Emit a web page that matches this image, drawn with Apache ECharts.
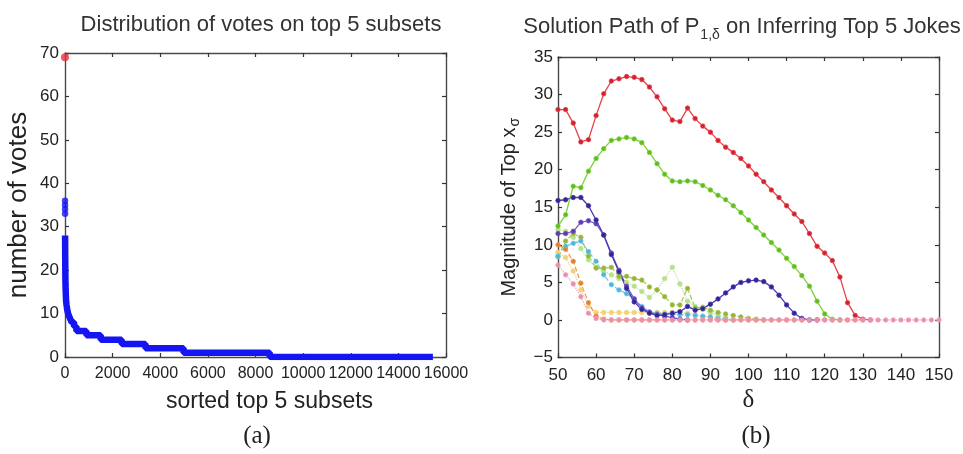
<!DOCTYPE html>
<html><head><meta charset="utf-8">
<script src="https://cdn.jsdelivr.net/npm/echarts@6/dist/echarts.min.js"></script>
<style>html,body{margin:0;padding:0;background:#fff}#c{width:963px;height:454px}</style>
</head><body><div id="c"></div>
<script>
// ---------- Panel (a): distribution of votes ----------
const topSubset = [[0, 69]];
const headVotes = [[1, 36], [2, 35], [3, 34], [4, 33]];
const voteSteps = [[5, 28], [6, 26], [9, 23], [13, 20], [20, 17], [30, 15], [45, 13], [65, 12], [90, 11], [130, 10],
  [200, 9], [280, 8], [380, 7], [480, 6], [900, 5], [1500, 4], [2380, 3], [3380, 2], [4980, 1], [8600, 0], [15450, 0]];
const xTicksA = [0, 16000, 2000];
const yTicksA = [0, 70, 10];

// ---------- Panel (b): solution path ----------
const deltas = [50,52,54,56,58,60,62,64,66,68,70,72,74,76,78,80,82,84,86,88,90,92,94,96,98,100,102,104,106,108,110,112,114,116,118,120,122,124,126,128,130,132,134,136,138,140,142,144,146,148,150];
const redPath = [28.0,28.0,26.2,23.7,24.0,27.2,30.1,31.8,32.1,32.4,
  32.3,32.0,31.0,29.7,28.1,26.6,26.4,28.2,26.8,25.8,
  25.0,23.9,23.0,22.3,21.5,20.5,19.4,18.4,17.3,16.3,
  15.2,14.1,13.1,11.5,9.8,8.9,7.9,5.7,2.3,0.6,
  0.1,0,null,null,null,null,null,null,null,null,null];
const greenPath = [12.5,14.0,17.8,17.6,19.8,21.5,22.8,23.9,24.1,24.3,
  24.1,23.6,22.3,20.8,19.4,18.5,18.4,18.5,18.4,17.9,
  17.3,16.6,16.0,15.2,14.3,13.3,12.3,11.3,10.3,9.3,
  8.2,7.1,5.9,4.5,2.5,0.8,0.1,0,null,null,
  null,null,null,null,null,null,null,null,null,null,null];
const indigoPath = [15.9,16.0,16.3,16.3,15.2,13.3,11.3,8.7,6.4,4.2,
  2.4,1.4,0.9,0.6,0.7,0.9,1.1,1.8,1.3,1.5,
  2.1,2.8,3.6,4.4,5.0,5.2,5.3,5.1,4.4,3.3,
  2.0,0.9,0.2,0,0,null,null,null,null,null,
  null,null,null,null,null,null,null,null,null,null,null];
const violetPath = [11.5,11.5,11.8,13.0,13.2,12.8,11.3,8.9,6.6,4.5,
  2.8,1.6,1.0,0.7,0.5,0.3,0.1,0,null,null,
  null,null,null,null,null,null,null,null,null,null,
  null,null,null,null,null,null,null,null,null,null,
  null,null,null,null,null,null,null,null,null,null,null];
const cyanPath = [8.5,9.8,10.2,10.5,9.1,7.8,6.0,4.7,4.0,3.5,
  2.8,1.8,1.1,0.9,0.8,0.8,0.7,0.7,0.6,0.5,
  0.4,0.2,0.1,0,null,null,null,null,null,null,
  null,null,null,null,null,null,null,null,null,null,
  null,null,null,null,null,null,null,null,null,null,null];
const olivePath = [8.4,10.5,11.5,11.0,8.5,6.9,6.9,7.0,5.8,5.8,
  5.5,5.3,4.4,4.0,3.1,2.0,2.0,4.2,1.6,1.7,
  1.3,1.0,0.8,0.6,0.4,0.2,0.1,0,null,null,
  null,null,null,null,null,null,null,null,null,null,
  null,null,null,null,null,null,null,null,null,null,null];
const paleGreenPath = [12.0,11.8,11.0,9.5,8.0,7.0,6.5,6.0,5.5,5.0,
  4.5,3.8,3.0,4.0,5.5,7.0,4.8,2.5,1.8,1.4,
  1.0,0.6,0.3,0,null,null,null,null,null,null,
  null,null,null,null,null,null,null,null,null,null,
  null,null,null,null,null,null,null,null,null,null,null];
const orangePath = [10.0,9.4,7.8,4.9,2.3,0.5,0.1,0,0,0,
  0,0,0,0,0,0,0,0,0,0,
  0,0,0,0,0,0,0,0,0,0,
  0,0,0,0,0,0,0,0,0,0,
  0,null,null,null,null,null,null,null,null,null,null];
const yellowPath = [9.0,8.3,6.5,4.0,1.8,1.0,1.0,1.0,1.0,1.0,
  1.0,1.0,1.0,1.0,1.0,1.0,1.0,0.9,0.7,0.5,
  0.3,0.1,0,null,null,null,null,null,null,null,
  null,null,null,null,null,null,null,null,null,null,
  null,null,null,null,null,null,null,null,null,null,null];
const pinkPath = [7.3,6.0,4.8,3.1,0.9,0.2,0,0,0,0,
  0,0,0,0,0,0,0,0,0,0,
  0,0,0,0,0,0,0,0,0,0,
  0,0,0,0,0,0,0,0,0,0,
  0,0,0,0,0,0,0,0,0,0,0];
const xTicksB = [50, 150, 10];
const yTicksB = [-5, 35, 5];

// ---------- build ----------
const chart = echarts.init(document.getElementById('c'));
const SANS = 'Liberation Sans, Arial, sans-serif';
const AX = '#4a4a4a';
function pairs(vals) {
  const out = [];
  deltas.forEach((d, i) => { if (vals[i] !== null) out.push([d, vals[i]]); });
  return out;
}
const plain = v => String(v);
const minus = v => (v < 0 ? '\u2212' + Math.abs(v) : String(v));
function mainAxis(grid, t, extra) {
  return Object.assign({
    gridIndex: grid, type: 'value', min: t[0], max: t[1], interval: t[2],
    axisLine: { show: true, onZero: false, lineStyle: { color: AX, width: 1.4 } },
    axisTick: { show: true, inside: true, length: 4, lineStyle: { color: '#333', width: 1.2 } },
    axisLabel: { show: true, fontFamily: SANS, fontSize: 17, color: '#222', margin: 6, formatter: plain,
      showMinLabel: true, showMaxLabel: true, hideOverlap: false },
    splitLine: { show: false },
    nameTextStyle: { fontFamily: SANS, fontSize: 22, color: '#222' }
  }, extra);
}
function boxAxis(grid, t, pos) {
  return {
    gridIndex: grid, type: 'value', min: t[0], max: t[1], interval: t[2], position: pos,
    axisLine: { show: true, onZero: false, lineStyle: { color: AX, width: 1.4 } },
    axisTick: { show: true, inside: true, length: 4, lineStyle: { color: '#333', width: 1.2 } },
    axisLabel: { show: false }, splitLine: { show: false }
  };
}
function pathSeries(vals, color, type, width, dark) {
  return {
    type: 'line', xAxisIndex: 2, yAxisIndex: 2, data: pairs(vals),
    symbol: 'circle', symbolSize: 4.5, showSymbol: true,
    lineStyle: { color: color, width: width, type: type },
    itemStyle: { color: dark || color, borderColor: color, borderWidth: 0.8 },
    animation: false
  };
}

chart.setOption({
  animation: false,
  backgroundColor: '#fff',
  title: [
    { text: 'Distribution of votes on top 5 subsets', left: 256, top: 9, textAlign: 'center',
      textStyle: { fontFamily: SANS, fontSize: 22, fontWeight: 'normal', color: '#333' } },
    { text: '{m|Solution Path of P}{s|1,\u03b4}{m| on Inferring Top 5 Jokes}', left: 737, top: 7, textAlign: 'center',
      textStyle: { fontWeight: 'normal', rich: {
        m: { fontFamily: SANS, fontSize: 22, fontWeight: 'normal', color: '#333' },
        s: { fontFamily: SANS, fontSize: 14, fontWeight: 'normal', color: '#333', padding: [16, 0, 0, 1] } } } },
    { text: '(a)', left: 252, top: 419, textAlign: 'center',
      textStyle: { fontFamily: 'Liberation Serif, serif', fontSize: 25, fontWeight: 'normal', color: '#222' } },
    { text: '(b)', left: 751, top: 419, textAlign: 'center',
      textStyle: { fontFamily: 'Liberation Serif, serif', fontSize: 25, fontWeight: 'normal', color: '#222' } }
  ],
  grid: [
    { left: 65, top: 53, width: 381, height: 304 },
    { left: 558, top: 57, width: 381, height: 300.5 }
  ],
  xAxis: [
    mainAxis(0, xTicksA, { position: 'bottom', name: 'sorted top 5 subsets', nameLocation: 'middle', nameGap: 33,
      axisLabel: { show: true, fontFamily: SANS, fontSize: 16, color: '#222', margin: 9, formatter: plain,
        showMinLabel: true, showMaxLabel: true, hideOverlap: false },
      nameTextStyle: { fontFamily: SANS, fontSize: 23, color: '#222', padding: [0, 0, 0, 28] } }),
    boxAxis(0, xTicksA, 'top'),
    mainAxis(1, xTicksB, { position: 'bottom', name: '\u03b4', nameLocation: 'middle', nameGap: 30,
      axisLabel: { show: true, fontFamily: SANS, fontSize: 17, color: '#222', margin: 9, formatter: plain,
        showMinLabel: true, showMaxLabel: true, hideOverlap: false },
      nameTextStyle: { fontFamily: 'Liberation Serif, serif', fontSize: 25, color: '#222' } }),
    boxAxis(1, xTicksB, 'top')
  ],
  yAxis: [
    mainAxis(0, yTicksA, { position: 'left', name: 'number of votes', nameLocation: 'middle', nameGap: 33,
      nameTextStyle: { fontFamily: SANS, fontSize: 26, color: '#222' } }),
    boxAxis(0, yTicksA, 'right'),
    mainAxis(1, yTicksB, { position: 'left', name: '{m|Magnitude of Top x}{s|\u03c3}', nameLocation: 'middle', nameGap: 36,
      axisLabel: { fontFamily: SANS, fontSize: 17, color: '#222', margin: 5, formatter: minus,
        showMinLabel: true, showMaxLabel: true, hideOverlap: false },
      nameTextStyle: { rich: {
        m: { fontFamily: SANS, fontSize: 20, color: '#222' },
        s: { fontFamily: SANS, fontSize: 14, color: '#222', padding: [11, 0, 0, 1] } } } }),
    boxAxis(1, yTicksB, 'right')
  ],
  series: [
    { type: 'line', xAxisIndex: 0, yAxisIndex: 0, data: voteSteps, step: 'end', symbol: 'none',
      lineStyle: { color: '#1515f2', width: 6.5 }, animation: false },
    { type: 'scatter', xAxisIndex: 0, yAxisIndex: 0, data: headVotes, symbolSize: 6.5,
      itemStyle: { color: '#1515f2' }, animation: false },
    { type: 'scatter', xAxisIndex: 0, yAxisIndex: 0, data: topSubset, symbolSize: 8, clip: false,
      itemStyle: { color: '#e8303a' }, animation: false },

    pathSeries(paleGreenPath, '#b5e38c', 'dotted', 1.2),
    pathSeries(yellowPath, '#f3d27a', 'dotted', 1.2),
    pathSeries(olivePath, '#a6c64a', 'dashed', 1.2, '#93b33c'),
    pathSeries(cyanPath, '#6cc6e6', 'dashed', 1.2, '#4fb4da'),
    pathSeries(orangePath, '#f0964a', 'dashed', 1.2, '#e08030'),
    pathSeries(violetPath, '#7650c4', 'solid', 1.2, '#5d3cb0'),
    pathSeries(indigoPath, '#4a38b0', 'solid', 1.3, '#33258f'),
    pathSeries(greenPath, '#7cd23a', 'solid', 1.3, '#62b828'),
    pathSeries(redPath, '#e8404a', 'solid', 1.3, '#d0222e'),
    pathSeries(pinkPath, '#f2a2be', 'dotted', 1.3, '#ea8cae')
  ]
});
</script></body></html>
